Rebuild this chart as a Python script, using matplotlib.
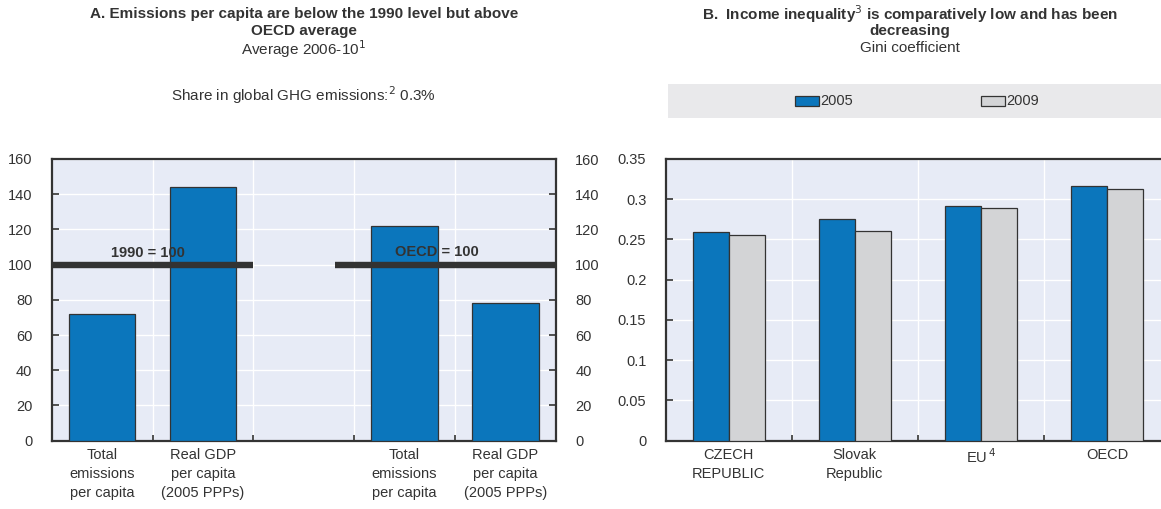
import matplotlib
matplotlib.use("Agg")
import matplotlib.pyplot as plt
from matplotlib.patches import Rectangle

plt.rcParams['font.family'] = ['Liberation Sans Narrow', 'Liberation Sans', 'DejaVu Sans']

# ---- Data ----
a_categories = ["Total\nemissions\nper capita", "Real GDP\nper capita\n(2005 PPPs)", "",
                "Total\nemissions\nper capita", "Real GDP\nper capita\n(2005 PPPs)"]
a_values = [72, 144, None, 122, 78]
a_refs = ["1990 = 100", "OECD = 100"]
a_ref_level = 100
a_yticks = [0, 20, 40, 60, 80, 100, 120, 140, 160]

b_categories = ["CZECH\nREPUBLIC", "Slovak\nRepublic", "EU$^{\\,4}$", "OECD"]
b_2005 = [0.259, 0.276, 0.291, 0.317]
b_2009 = [0.255, 0.261, 0.289, 0.313]
b_series = ["2005", "2009"]
b_yticks = [0, 0.05, 0.1, 0.15, 0.2, 0.25, 0.3, 0.35]
b_yticklabels = ["0", "0.05", "0.1", "0.15", "0.2", "0.25", "0.3", "0.35"]

BLUE = "#0B76BC"
GREY = "#D3D4D6"
BG = "#E7EBF6"
DARK = "#333333"
TXT = "#333333"

W, H = 1161, 509
fig = plt.figure(figsize=(W / 100, H / 100), dpi=100)

def fx(px):
    return px / W

def fy(py):
    return 1 - py / H

ax_bottom = fy(440.7)
ax_h = fy(159) - fy(440.7)

# ---------- Panel A ----------
axA = fig.add_axes([fx(51.7), ax_bottom, fx(555.7) - fx(51.7), ax_h])
axA.set_facecolor(BG)
xs = [i for i, v in enumerate(a_values) if v is not None]
vals = [v for v in a_values if v is not None]
axA.bar(xs, vals, width=0.66, color=BLUE, edgecolor=DARK, linewidth=0.9, zorder=3)
axA.set_xlim(-0.5, 4.5)
axA.set_ylim(0, 160)
axA.set_yticks(a_yticks)
axA.set_xticks(range(len(a_categories)))
axA.set_xticklabels(a_categories, fontsize=10.5, color=TXT, linespacing=1.45)
axA.set_xticks([0.5, 1.5, 2.5, 3.5], minor=True)
axA.tick_params(axis='x', which='major', length=0, pad=5)
axA.tick_params(axis='x', which='minor', direction='in', length=4, width=1.2, color=DARK)
axA.tick_params(axis='y', direction='in', length=5, width=1.2, color=DARK, labelsize=10.5,
                labelcolor=TXT, pad=14)
axA.grid(True, which='major', axis='y', color='white', linewidth=1.0, zorder=0)
axA.grid(True, which='minor', axis='x', color='white', linewidth=1.0, zorder=0)
axA.set_axisbelow(True)
for s in axA.spines.values():
    s.set_color(DARK)
    s.set_linewidth(1.6)

axA.plot([-0.5, 1.5], [a_ref_level, a_ref_level], color=DARK, linewidth=4.6,
         solid_capstyle='butt', zorder=5, clip_on=False)
axA.plot([2.31, 4.5], [a_ref_level, a_ref_level], color=DARK, linewidth=4.6,
         solid_capstyle='butt', zorder=5, clip_on=False)
axA.text(0.455, 102.5, a_refs[0], ha='center', va='bottom', fontsize=10.5,
         fontweight='bold', color=DARK, zorder=6)
axA.text(3.32, 103, a_refs[1], ha='center', va='bottom', fontsize=10.5,
         fontweight='bold', color=DARK, zorder=6)

axA2 = axA.twinx()
axA2.set_ylim(0, 160)
axA2.set_yticks(a_yticks)
axA2.tick_params(axis='y', direction='in', length=5, width=1.2, color=DARK, labelsize=10.5,
                 labelcolor=TXT, pad=14)
for s in axA2.spines.values():
    s.set_visible(False)

TFS = 11
cxA = fx((51.7 + 555.7) / 2)
fig.text(cxA, fy(14), "A. Emissions per capita are below the 1990 level but above",
         ha='center', va='center', fontsize=TFS, fontweight='bold', color=DARK)
fig.text(cxA, fy(31), "OECD average", ha='center', va='center', fontsize=TFS,
         fontweight='bold', color=DARK)
fig.text(cxA, fy(49), "Average 2006-10$^{1}$", ha='center', va='center', fontsize=TFS, color=DARK)
fig.text(cxA, fy(95), "Share in global GHG emissions:$^{2}$ 0.3%", ha='center', va='center',
         fontsize=TFS, color=DARK)

# ---------- Panel B ----------
axB = fig.add_axes([fx(665.7), ax_bottom, fx(1170) - fx(665.7), ax_h])
axB.set_facecolor(BG)
n = len(b_categories)
bw = 0.286
axB.bar([i - bw / 2 for i in range(n)], b_2005, width=bw, color=BLUE, edgecolor=DARK,
        linewidth=0.9, zorder=3)
axB.bar([i + bw / 2 for i in range(n)], b_2009, width=bw, color=GREY, edgecolor=DARK,
        linewidth=0.9, zorder=3)
axB.set_xlim(-0.5, n - 0.5)
axB.set_ylim(0, 0.35)
axB.set_yticks(b_yticks)
axB.set_yticklabels(b_yticklabels)
axB.set_xticks(range(n))
axB.set_xticklabels(b_categories, fontsize=10.5, color=TXT, linespacing=1.45)
axB.set_xticks([0.5, 1.5, 2.5], minor=True)
axB.tick_params(axis='x', which='major', length=0, pad=5)
axB.tick_params(axis='x', which='minor', direction='in', length=4, width=1.2, color=DARK)
axB.tick_params(axis='y', direction='in', length=5, width=1.2, color=DARK, labelsize=10.5,
                labelcolor=TXT, pad=14)
axB.grid(True, which='major', axis='y', color='white', linewidth=1.0, zorder=0)
axB.grid(True, which='minor', axis='x', color='white', linewidth=1.0, zorder=0)
axB.set_axisbelow(True)
for s in axB.spines.values():
    s.set_color(DARK)
    s.set_linewidth(1.6)

cxB = fx(910)
fig.text(cxB, fy(14), "B.  Income inequality$^{3}$ is comparatively low and has been",
         ha='center', va='center', fontsize=TFS, fontweight='bold', color=DARK)
fig.text(cxB, fy(31), "decreasing", ha='center', va='center', fontsize=TFS,
         fontweight='bold', color=DARK)
fig.text(cxB, fy(48), "Gini coefficient", ha='center', va='center', fontsize=TFS, color=DARK)

# legend band
fig.patches.append(Rectangle((fx(668), fy(118)), fx(1161) - fx(668), fy(84) - fy(118),
                             transform=fig.transFigure, facecolor="#E9E9EB",
                             edgecolor='none', zorder=0))
for (px, label, col) in [(795, b_series[0], BLUE), (981, b_series[1], GREY)]:
    fig.patches.append(Rectangle((fx(px), fy(106)), fx(24), fy(96) - fy(106),
                                 transform=fig.transFigure, facecolor=col,
                                 edgecolor=DARK, linewidth=0.9, zorder=2))
    fig.text(fx(px + 25), fy(101), label, ha='left', va='center', fontsize=10.5, color=DARK)

fig.savefig("out.png", dpi=100)
